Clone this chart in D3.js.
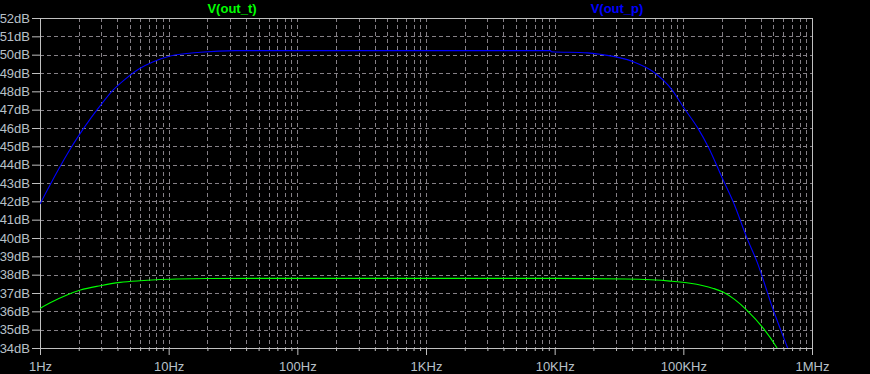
<!DOCTYPE html>
<html>
<head>
<meta charset="utf-8">
<script src="https://cdn.jsdelivr.net/npm/d3@7"></script>
<style>
  html, body { margin: 0; padding: 0; background: #000; }
  svg { display: block; }
  .axis text { font-family: "Liberation Sans", Arial, sans-serif; font-size: 13px; fill: #b8c0c8; }
  .legend { font-family: "Liberation Sans", Arial, sans-serif; font-size: 13px; font-weight: bold; }
</style>
</head>
<body>
<div id="chart"></div>
<script>
/* Data */
const freqT = [1, 1.2, 1.62, 2.06, 2.94, 4.2, 6.0, 8, 11.6, 20, 100, 1000, 10000, 35300, 78900, 113000, 140000, 171000, 205000, 250000, 311000, 419000, 532000, 600000];
const gainT = [36.16, 36.47, 36.89, 37.16, 37.40, 37.58, 37.67, 37.72, 37.76, 37.79, 37.80, 37.80, 37.80, 37.76, 37.65, 37.53, 37.41, 37.25, 37.04, 36.65, 36.07, 35.07, 34.03, 33.4];

const freqP = [1, 1.34, 1.7, 2.03, 2.46, 2.94, 3.71, 4.6, 6.0, 7.6, 10.3, 17.6, 32.9, 100, 1000, 9300, 9400, 18000, 22600, 40700, 58300, 81900, 99600, 130000, 156000, 204000, 244000, 313000, 374000, 500000, 644000, 700000];
const gainP = [41.85, 43.53, 44.8, 45.65, 46.5, 47.22, 48.08, 48.67, 49.26, 49.62, 49.93, 50.13, 50.22, 50.22, 50.22, 50.22, 50.16, 50.10, 50.02, 49.62, 49.07, 48.07, 47.16, 45.98, 44.98, 43.16, 41.98, 39.98, 38.7, 36.07, 34.03, 33.36];

const xTicks = [1, 10, 100, 1e3, 1e4, 1e5, 1e6];
const xTickLabels = ['1Hz', '10Hz', '100Hz', '1KHz', '10KHz', '100KHz', '1MHz'];
const yTicks = d3.range(34, 53);

const seriesNames = ['V(out_t)', 'V(out_p)'];
const seriesColors = ['#00ff00', '#0000ff'];

const margin = { top: 18, right: 58, bottom: 26, left: 40 };
const W = 870, H = 374;
const width = W - margin.left - margin.right;
const height = H - margin.top - margin.bottom;

const x = d3.scaleLog().domain([1, 1e6]).range([0, width]);
const y = d3.scaleLinear().domain([34, 52]).range([height, 0]);

const svg = d3.select('#chart').append('svg')
    .attr('width', W)
    .attr('height', H);

svg.append('rect').attr('width', W).attr('height', H).attr('fill', '#000');

const chart = svg.append('g').attr('transform', `translate(${margin.left},${margin.top})`);

/* minor ticks for the log grid: 1..9 of each decade */
const gridX = [];
for (let d = 0; d < 6; d++) for (let m = 1; m < 10; m++) gridX.push(m * Math.pow(10, d));
gridX.push(1e6);

/* Grid */
const grid = chart.append('g').attr('class', 'grid');
grid.selectAll('line.v').data(gridX.slice(1, -1)).join('line')
    .attr('class', 'v')
    .attr('x1', d => Math.round(x(d)) + 0.5).attr('x2', d => Math.round(x(d)) + 0.5)
    .attr('y1', 0).attr('y2', height)
    .attr('stroke', '#858086').attr('stroke-dasharray', '4,3');
grid.selectAll('line.h').data(yTicks.slice(1, -1)).join('line')
    .attr('class', 'h')
    .attr('x1', 0).attr('x2', width)
    .attr('y1', d => Math.round(y(d)) + 0.5).attr('y2', d => Math.round(y(d)) + 0.5)
    .attr('stroke', '#858086').attr('stroke-dasharray', '4,3');

/* Axes */
const yAxis = chart.append('g').attr('class', 'axis axis--y')
    .call(d3.axisLeft(y).tickValues(yTicks).tickFormat(d => d + 'dB').tickSize(8).tickPadding(2));
yAxis.select('.domain').remove();
yAxis.selectAll('.tick line').attr('stroke', '#c0c0c0');

const xAxis = chart.append('g').attr('class', 'axis axis--x')
    .attr('transform', `translate(0,${height})`)
    .call(d3.axisBottom(x).tickValues(xTicks).tickFormat((d, i) => xTickLabels[i]).tickSize(7).tickPadding(4));
xAxis.select('.domain').remove();
xAxis.selectAll('.tick line').attr('stroke', '#c0c0c0');
xAxis.selectAll('.tick text').attr('dy', '0.9em');

const xMinor = chart.append('g')
    .attr('transform', `translate(0,${height})`)
    .call(d3.axisBottom(x).tickValues(gridX.filter(d => !xTicks.includes(d))).tickFormat('').tickSize(3));
xMinor.select('.domain').remove();
xMinor.selectAll('.tick line').attr('stroke', '#c0c0c0');

/* Frame */
chart.append('rect')
    .attr('x', 0.5).attr('y', 0.5)
    .attr('width', width).attr('height', height)
    .attr('fill', 'none').attr('stroke', '#c0c0c0');

/* Curves */
svg.append('clipPath').attr('id', 'plot-clip')
    .append('rect').attr('width', width).attr('height', height);

const line = d3.line()
    .x(d => x(d[0]))
    .y(d => y(d[1]))
    .curve(d3.curveMonotoneX);

const series = [d3.zip(freqT, gainT), d3.zip(freqP, gainP)];

chart.append('g').attr('clip-path', 'url(#plot-clip)')
    .selectAll('path').data(series).join('path')
    .attr('d', line)
    .attr('fill', 'none')
    .attr('stroke', (d, i) => seriesColors[i])
    .attr('stroke-width', 1.1);

/* Legend */
const legendX = [232, 617];
svg.selectAll('text.legend').data(seriesNames).join('text')
    .attr('class', 'legend')
    .attr('x', (d, i) => legendX[i])
    .attr('y', 13)
    .attr('text-anchor', 'middle')
    .attr('fill', (d, i) => seriesColors[i])
    .text(d => d);
</script>
</body>
</html>
